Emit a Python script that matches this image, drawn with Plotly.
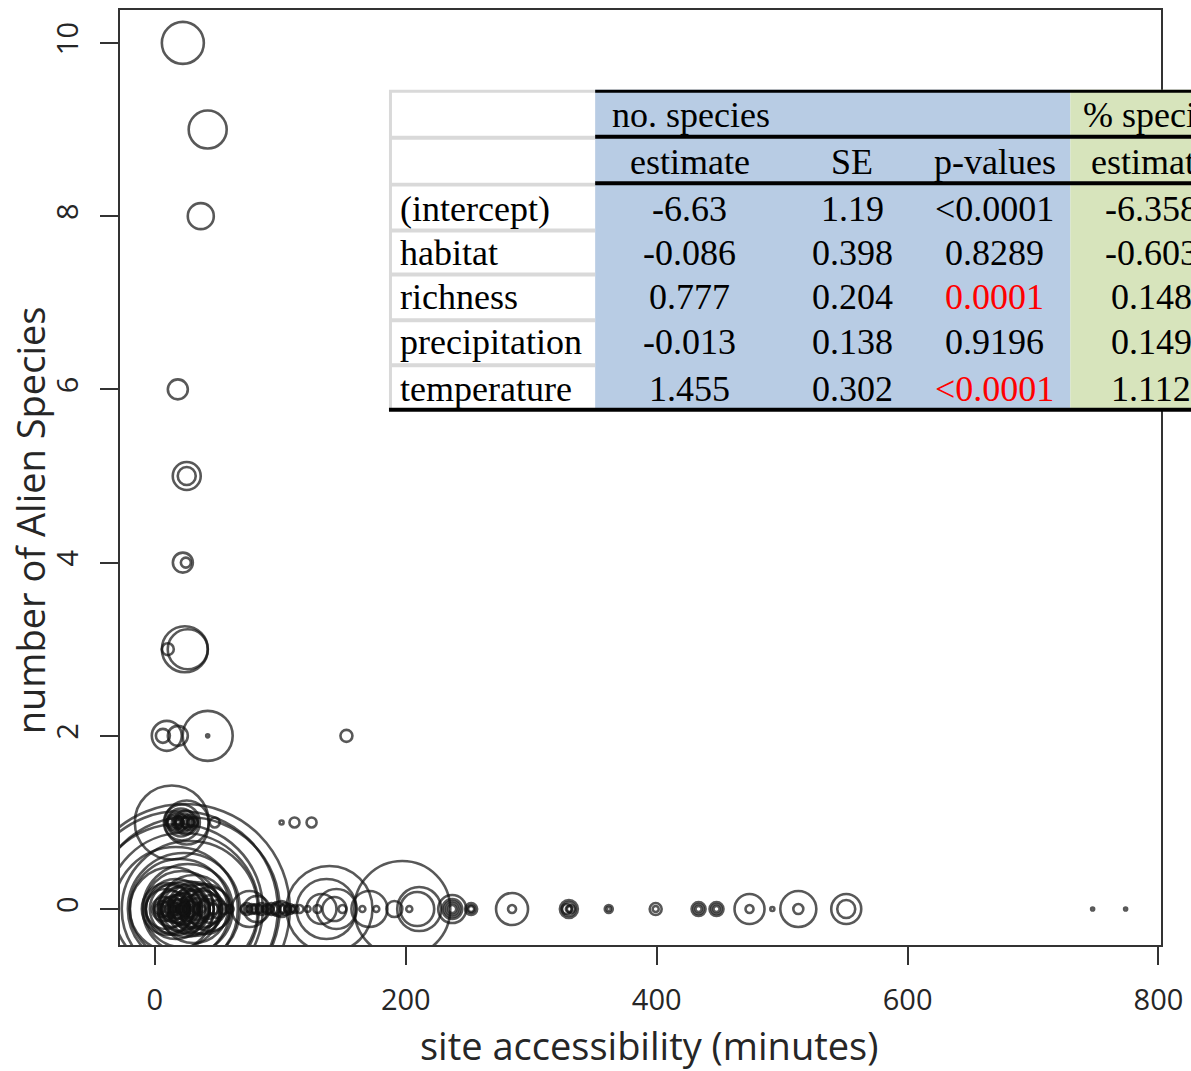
import plotly.graph_objects as go

# ---------------- data ----------------
# Each row: site accessibility (minutes) of the sites with that number of
# alien species, and the relative bubble size of each site.
alien_levels = [10, 9, 8, 6, 5, 4, 3, 2, 1, 0]

acc_10, size_10 = [22.3], [21]
acc_9, size_9 = [42.1], [19]
acc_8, size_8 = [36.6], [13]
acc_6, size_6 = [18.3], [10]
acc_5, size_5 = [25.4, 25.4], [14, 9]
acc_4, size_4 = [22.3, 24.7], [10, 5]
acc_3, size_3 = [23.9, 26.2, 10.3], [23, 20, 6]
acc_2 = [6.4, 9.5, 18.3, 42.1, 42.1, 152.7]
size_2 = [7, 15, 10, 25, 1.5, 6]
acc_1 = [13.5, 21.5, 25.4, 15.9, 18.3, 21.5, 24.7, 27.8, 19.9, 30.2, 11.9, 47.7,
         15.1, 17.5, 23.1, 26.2, 28.6, 19.1, 24.7, 20.7,
         101.0, 111.3, 124.9]
size_1 = [37, 18, 22, 8, 6, 7, 5, 8, 4, 5, 4, 5,
          6, 10, 9, 6, 4, 3, 12, 14,
          2, 5, 5]
acc_0 = [
    # dense cluster near the road
    23.9, 19.9, 26.2, 18.3, 22.3, 27.8, 16.7, 23.1, 19.9, 26.2, 13.5, 21.5,
    31.0, 16.7, 24.7, 10.3, 34.2, 19.9, 27.8, 13.5, 39.0, 23.1, 16.7, 32.6,
    7.2, 26.2, 19.9, 42.1, 11.9, 29.4, 23.1, 16.7, 35.8, 4.0, 26.2, 46.9,
    19.9, 10.3, 32.6, 24.7, 15.1,
    11.9, 16.7, 31.8, 39.8, 43.7, 35.8, 8.7, 24.7, 28.6, 20.7, 13.5, 34.2,
    40.6, 5.6, 18.3, 26.2, 31.0, 10.3, 22.3, 17.5, 37.4, 45.3, 50.1, 54.9, 59.6,
    # 70 - 160 minutes
    73.2, 75.5, 77.1, 81.1, 81.1, 85.1, 89.9, 93.0, 97.8, 101.0, 104.2, 107.4,
    111.3, 115.3, 121.7, 129.6, 136.8, 139.2, 144.7, 149.5, 143.1, 132.8,
    71.6, 74.8, 78.7, 83.5, 87.5, 91.5, 96.2, 102.6, 105.8, 109.7,
    # 160 - 800 minutes
    165.4, 171.0, 176.5, 190.9, 197.2, 202.8, 209.1, 210.7,
    237.0, 237.0, 237.0, 237.0, 237.0, 252.1, 252.1, 252.1, 284.7, 284.7,
    330.0, 328.4, 331.6, 330.0, 330.0, 361.8, 361.8, 399.2, 399.2,
    433.4, 433.4, 433.4, 447.7, 447.7, 447.7, 474.0, 474.0, 492.2,
    512.9, 512.9, 551.1, 551.1, 747.5, 773.8,
]
size_0 = [
    105, 98, 92, 85, 76, 68, 62, 56, 50, 45, 42, 38,
    34, 30, 28, 26, 25, 22, 20, 18, 18, 16, 14, 14,
    12, 12, 10, 10, 9, 8, 7, 6, 6, 5, 5, 5,
    4, 4, 4, 3, 3,
    24, 26, 27, 25, 22, 20, 20, 24, 18, 15, 12, 11,
    8, 8, 9, 9, 6, 7, 5, 3, 3, 14, 9, 5, 4,
    6, 18, 5, 13, 5, 6, 5, 6, 7, 8, 6, 5,
    4, 4, 3, 4, 30, 43, 20, 4, 12, 15,
    4, 3, 4, 4, 3, 4, 5, 4, 3, 3,
    3, 18, 3, 8, 48, 3, 17, 22,
    14, 8, 4, 10, 6, 6, 4, 3, 16, 4,
    9, 5, 4, 7, 3, 4, 2, 6, 3,
    7, 5, 3, 7, 5, 3, 15, 4, 2,
    18, 5, 15, 9, 1.5, 1.5,
]

acc_rows = [acc_10, acc_9, acc_8, acc_6, acc_5, acc_4, acc_3, acc_2, acc_1, acc_0]
size_rows = [size_10, size_9, size_8, size_6, size_5, size_4, size_3, size_2, size_1, size_0]

access, alien, bubble = [], [], []
for lvl, xs, ss in zip(alien_levels, acc_rows, size_rows):
    access += xs
    alien += [lvl] * len(xs)
    bubble += ss

x_ticks = [0, 200, 400, 600, 800]
y_ticks = [0, 2, 4, 6, 8, 10]
x_title = "site accessibility (minutes)"
y_title = "number of Alien Species"

# table content
col_groups = ["no. species", "% species"]
col_heads = ["estimate", "SE", "p-values", "estimate"]
row_labels = ["(intercept)", "habitat", "richness", "precipitation", "temperature"]
est_n = ["-6.63", "-0.086", "0.777", "-0.013", "1.455"]
se_n = ["1.19", "0.398", "0.204", "0.138", "0.302"]
p_n = ["<0.0001", "0.8289", "0.0001", "0.9196", "<0.0001"]
p_sig = [False, False, True, False, True]
est_pct = ["-6.358", "-0.603", "0.148", "0.149", "1.112"]

# ---------------- figure ----------------
W, H = 1191, 1071
L, R, T, B = 120, 1165, 8, 945  # plot area in pixels

fig = go.Figure()
fig.add_trace(go.Scatter(
    x=access, y=alien, mode="markers",
    marker=dict(symbol="circle-open", size=bubble, sizemode="diameter", sizeref=0.5,
                color="#111111", line=dict(width=2.6, color="#111111")),
    hoverinfo="x+y", showlegend=False,
))

axis_font = dict(family="Open Sans", size=29, color="#262626")
title_font = dict(family="Open Sans", size=38, color="#262626")

fig.update_layout(
    width=W, height=H,
    margin=dict(l=L, r=W - R, t=T, b=H - B, pad=0),
    paper_bgcolor="white", plot_bgcolor="white",
    xaxis=dict(range=[-27.8, 802.0], tickvals=x_ticks,
               showgrid=False, zeroline=False, showline=True, mirror=True,
               linecolor="#333333", linewidth=2, ticks="outside", ticklen=18,
               tickwidth=2, tickcolor="#333333", tickfont=axis_font,
               ticklabelstandoff=10),
    yaxis=dict(range=[-0.415, 10.38], tickvals=y_ticks, tickangle=-90,
               showgrid=False, zeroline=False, showline=True, mirror=True,
               linecolor="#333333", linewidth=2, ticks="outside", ticklen=18,
               tickwidth=2, tickcolor="#333333", tickfont=axis_font,
               ticklabelstandoff=10),
)

# ---------------- helpers: pixel layout -> paper coords ----------------
def px(xpix):
    return (xpix - L) / (R - L)

def py(ypix):
    return (B - ypix) / (B - T)

# axis titles (placed slightly off-centre, as in the original)
fig.add_annotation(xref="paper", yref="paper", x=px(651), y=py(1045), text=x_title,
                   showarrow=False, xanchor="center", yanchor="middle", font=title_font)
fig.add_annotation(xref="paper", yref="paper", x=px(30), y=py(519), text=y_title,
                   textangle=-90, showarrow=False, xanchor="center", yanchor="middle",
                   font=title_font)

# ---------------- table overlay ----------------
def rect(x0, y0, x1, y1, fill):
    fig.add_shape(type="rect", xref="paper", yref="paper", layer="above",
                  x0=px(x0), x1=px(x1), y0=py(y1), y1=py(y0),
                  fillcolor=fill, line=dict(width=0))

def hline(x0, x1, y, w):
    fig.add_shape(type="line", xref="paper", yref="paper", layer="above",
                  x0=px(x0), x1=px(x1), y0=py(y), y1=py(y),
                  line=dict(width=w, color="black"))

row_edges = [88, 135, 182, 228, 272, 318, 363, 408]
tx0, tlab1, tblue1, tgreen1 = 390, 597, 1074, 1260

rect(tx0, row_edges[0], tlab1, row_edges[-1], "#d9d9d9")
for i in range(len(row_edges) - 1):
    rect(tx0 + 3, row_edges[i] + 3, tlab1, row_edges[i + 1] - 1, "white")
rect(tlab1, row_edges[0], tblue1, row_edges[-1], "#b8cce4")
rect(tblue1, row_edges[0], tgreen1, row_edges[-1], "#d7e4bc")
hline(tlab1, tgreen1, 89.5, 3)
hline(tlab1, tgreen1, 135, 4)
hline(tlab1, tgreen1, 181.5, 4)
hline(tx0, tgreen1, 408.5, 4)

row_mid = [113, 160, 207, 252, 296, 341, 388]
col_centers = [692, 855, 998, 1155]

def text(x, y, s, anchor="center", color="black"):
    fig.add_annotation(xref="paper", yref="paper", x=px(x), y=py(y), text=s,
                       showarrow=False, xanchor=anchor, yanchor="middle",
                       font=dict(family="Liberation Serif", size=36, color=color))

text(612, row_mid[0], col_groups[0], anchor="left")
text(1085, row_mid[0], col_groups[1], anchor="left")
for c, h in zip(col_centers, col_heads):
    text(c, row_mid[1], h)
for i, lab in enumerate(row_labels):
    y = row_mid[i + 2]
    text(399, y, lab, anchor="left")
    text(col_centers[0], y, est_n[i])
    text(col_centers[1], y, se_n[i])
    text(col_centers[2], y, p_n[i], color="#ff0000" if p_sig[i] else "black")
    text(col_centers[3], y, est_pct[i])

fig.write_html("out.html", config={"displayModeBar": False},
               post_script="document.body.style.margin='0px';")
